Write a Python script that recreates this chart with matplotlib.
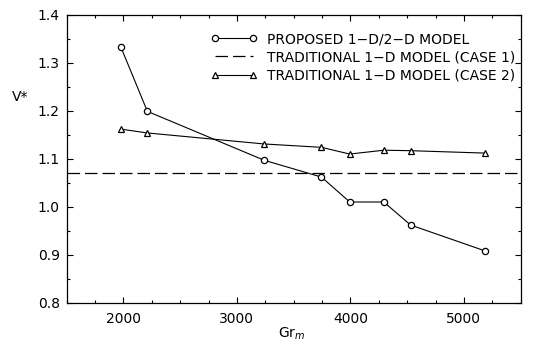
import matplotlib
matplotlib.use("Agg")
import matplotlib.pyplot as plt
from matplotlib.ticker import MultipleLocator, FormatStrFormatter

# Data
gr_proposed = [1976, 2211, 3241, 3745, 3994, 4294, 4530, 5186]
v_proposed = [1.334, 1.199, 1.097, 1.062, 1.010, 1.010, 0.962, 0.908]

gr_case2 = [1976, 2211, 3241, 3745, 3994, 4294, 4530, 5186]
v_case2 = [1.162, 1.154, 1.131, 1.124, 1.110, 1.118, 1.117, 1.112]

v_case1 = 1.070

labels = ["PROPOSED 1\u2212D/2\u2212D MODEL",
          "TRADITIONAL 1\u2212D MODEL (CASE 1)",
          "TRADITIONAL 1\u2212D MODEL (CASE 2)"]

plt.rcParams['font.family'] = ['DejaVu Sans']

fig = plt.figure(figsize=(5.36, 3.43), dpi=100)
ax = fig.add_axes([0.1244, 0.1175, 0.8470, 0.8388])

ax.plot(gr_proposed, v_proposed, color='black', lw=0.8, marker='o', ms=4.5,
        mfc='white', mec='black', mew=0.9, label=labels[0])
ax.axhline(v_case1, color='black', lw=0.9, ls=(0, (10, 4)), label=labels[1])
ax.plot(gr_case2, v_case2, color='black', lw=0.8, marker='^', ms=4.5,
        mfc='white', mec='black', mew=0.9, label=labels[2])

ax.set_xlim(1500, 5500)
ax.set_ylim(0.8, 1.4)
ax.xaxis.set_major_locator(MultipleLocator(1000))
ax.xaxis.set_minor_locator(MultipleLocator(250))
ax.yaxis.set_major_locator(MultipleLocator(0.1))
ax.yaxis.set_minor_locator(MultipleLocator(0.05))
ax.tick_params(which='both', direction='in', top=True, right=True, width=0.8)
ax.tick_params(which='major', length=4.5, labelsize=10)
ax.tick_params(axis='x', which='major', pad=7)
ax.tick_params(axis='y', which='major', pad=5)
ax.tick_params(which='minor', length=2.5)
ax.yaxis.set_major_formatter(FormatStrFormatter('%.1f'))
for s in ax.spines.values():
    s.set_linewidth(0.9)

ax.text(-0.085, 0.715, "V*", transform=ax.transAxes, fontsize=10,
        ha='right', va='center')
fig.text(0.545, 0.5 / 343, "Gr$_m$", fontsize=10, ha='center', va='bottom')

leg = ax.legend(loc='upper right', bbox_to_anchor=(1.0, 0.96), frameon=False,
                fontsize=10, numpoints=2, handlelength=3.3, handletextpad=0.7,
                labelspacing=0.3, borderaxespad=0.0)

fig.savefig("out.png", dpi=100)
